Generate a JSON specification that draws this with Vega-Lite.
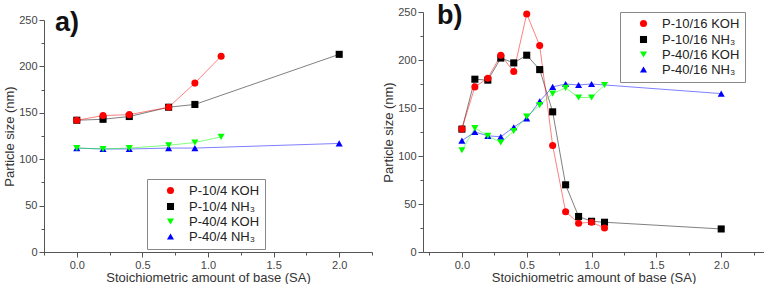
{
  "$schema": "https://vega.github.io/schema/vega-lite/v6.json",
  "padding": {"left": 3, "top": 2, "right": 0, "bottom": 0},
  "background": "white",
  "spacing": 9,
  "config": {
    "font": "Liberation Sans",
    "view": {"stroke": null},
    "axis": {"domainColor": "#555", "tickColor": "#555", "labelColor": "#444", "titleColor": "#333", "labelFont": "Liberation Sans", "titleFont": "Liberation Sans", "labelFontSize": 11, "titleFontSize": 13, "titleFontWeight": "normal", "grid": false, "labelOverlap": false, "labelFlush": false, "labelPadding": 2},
    "title": {"font": "Liberation Sans", "fontSize": 27, "fontWeight": "bold", "color": "#111", "anchor": "start", "frame": "group"}
  },
  "datasets": {
    "a": [
      {"series": "P-10/4 NH₃", "x": 0.0, "y": 142},
      {"series": "P-10/4 NH₃", "x": 0.2, "y": 143},
      {"series": "P-10/4 NH₃", "x": 0.4, "y": 146},
      {"series": "P-10/4 NH₃", "x": 0.7, "y": 156},
      {"series": "P-10/4 NH₃", "x": 0.9, "y": 159},
      {"series": "P-10/4 NH₃", "x": 2.0, "y": 213},
      {"series": "P-10/4 KOH", "x": 0.0, "y": 142},
      {"series": "P-10/4 KOH", "x": 0.2, "y": 147},
      {"series": "P-10/4 KOH", "x": 0.4, "y": 148},
      {"series": "P-10/4 KOH", "x": 0.7, "y": 156},
      {"series": "P-10/4 KOH", "x": 0.9, "y": 182},
      {"series": "P-10/4 KOH", "x": 1.1, "y": 211},
      {"series": "P-40/4 NH₃", "x": 0.0, "y": 112},
      {"series": "P-40/4 NH₃", "x": 0.2, "y": 111},
      {"series": "P-40/4 NH₃", "x": 0.4, "y": 111},
      {"series": "P-40/4 NH₃", "x": 0.7, "y": 112},
      {"series": "P-40/4 NH₃", "x": 0.9, "y": 112},
      {"series": "P-40/4 NH₃", "x": 2.0, "y": 117},
      {"series": "P-40/4 KOH", "x": 0.0, "y": 112},
      {"series": "P-40/4 KOH", "x": 0.2, "y": 111},
      {"series": "P-40/4 KOH", "x": 0.4, "y": 112},
      {"series": "P-40/4 KOH", "x": 0.7, "y": 115},
      {"series": "P-40/4 KOH", "x": 0.9, "y": 118},
      {"series": "P-40/4 KOH", "x": 1.1, "y": 124}
    ],
    "b": [
      {"series": "P-10/16 NH₃", "x": 0.0, "y": 128},
      {"series": "P-10/16 NH₃", "x": 0.1, "y": 180},
      {"series": "P-10/16 NH₃", "x": 0.2, "y": 179},
      {"series": "P-10/16 NH₃", "x": 0.3, "y": 202},
      {"series": "P-10/16 NH₃", "x": 0.4, "y": 197},
      {"series": "P-10/16 NH₃", "x": 0.5, "y": 205},
      {"series": "P-10/16 NH₃", "x": 0.6, "y": 190},
      {"series": "P-10/16 NH₃", "x": 0.7, "y": 146},
      {"series": "P-10/16 NH₃", "x": 0.8, "y": 70},
      {"series": "P-10/16 NH₃", "x": 0.9, "y": 37},
      {"series": "P-10/16 NH₃", "x": 1.0, "y": 32},
      {"series": "P-10/16 NH₃", "x": 1.1, "y": 31},
      {"series": "P-10/16 NH₃", "x": 2.0, "y": 24},
      {"series": "P-10/16 KOH", "x": 0.0, "y": 128},
      {"series": "P-10/16 KOH", "x": 0.1, "y": 172},
      {"series": "P-10/16 KOH", "x": 0.2, "y": 181},
      {"series": "P-10/16 KOH", "x": 0.3, "y": 205},
      {"series": "P-10/16 KOH", "x": 0.4, "y": 188},
      {"series": "P-10/16 KOH", "x": 0.5, "y": 248},
      {"series": "P-10/16 KOH", "x": 0.6, "y": 215},
      {"series": "P-10/16 KOH", "x": 0.7, "y": 111},
      {"series": "P-10/16 KOH", "x": 0.8, "y": 42},
      {"series": "P-10/16 KOH", "x": 0.9, "y": 30},
      {"series": "P-10/16 KOH", "x": 1.0, "y": 31},
      {"series": "P-10/16 KOH", "x": 1.1, "y": 25},
      {"series": "P-40/16 NH₃", "x": 0.0, "y": 116},
      {"series": "P-40/16 NH₃", "x": 0.1, "y": 125},
      {"series": "P-40/16 NH₃", "x": 0.2, "y": 121},
      {"series": "P-40/16 NH₃", "x": 0.3, "y": 120},
      {"series": "P-40/16 NH₃", "x": 0.4, "y": 130},
      {"series": "P-40/16 NH₃", "x": 0.5, "y": 139},
      {"series": "P-40/16 NH₃", "x": 0.6, "y": 157},
      {"series": "P-40/16 NH₃", "x": 0.7, "y": 172},
      {"series": "P-40/16 NH₃", "x": 0.8, "y": 175},
      {"series": "P-40/16 NH₃", "x": 0.9, "y": 174},
      {"series": "P-40/16 NH₃", "x": 1.0, "y": 175},
      {"series": "P-40/16 NH₃", "x": 2.0, "y": 165},
      {"series": "P-40/16 KOH", "x": 0.0, "y": 106},
      {"series": "P-40/16 KOH", "x": 0.1, "y": 129},
      {"series": "P-40/16 KOH", "x": 0.2, "y": 121},
      {"series": "P-40/16 KOH", "x": 0.3, "y": 114},
      {"series": "P-40/16 KOH", "x": 0.4, "y": 126},
      {"series": "P-40/16 KOH", "x": 0.5, "y": 141},
      {"series": "P-40/16 KOH", "x": 0.6, "y": 153},
      {"series": "P-40/16 KOH", "x": 0.7, "y": 165},
      {"series": "P-40/16 KOH", "x": 0.8, "y": 171},
      {"series": "P-40/16 KOH", "x": 0.9, "y": 161},
      {"series": "P-40/16 KOH", "x": 1.0, "y": 161},
      {"series": "P-40/16 KOH", "x": 1.1, "y": 174}
    ]
  },
  "resolve": {"scale": {"x": "independent", "y": "independent", "color": "independent", "stroke": "independent", "shape": "independent"}, "legend": {"color": "independent", "shape": "independent"}},
  "hconcat": [
    {
      "width": 328,
      "height": 240,
      "data": {"name": "a"},
      "title": {"text": "a)", "offset": -25, "dx": 11},
      "encoding": {
        "x": {"field": "x", "type": "quantitative", "title": "Stoichiometric amount of base (SA)",
          "scale": {"domain": [-0.25, 2.25], "nice": false, "zero": false},
          "axis": {"values": [-0.25, 0, 0.25, 0.5, 0.75, 1, 1.25, 1.5, 1.75, 2, 2.25], "labelExpr": "datum.value % 0.5 === 0 ? format(datum.value, '.1f') : ''", "tickSize": {"condition": {"test": "datum.value % 0.5 === 0", "value": 5}, "value": 3}, "titlePadding": 1}},
        "y": {"field": "y", "type": "quantitative", "title": "Particle size (nm)",
          "scale": {"domain": [0, 250], "range": [240, 8], "nice": false},
          "axis": {"values": [0, 25, 50, 75, 100, 125, 150, 175, 200, 225, 250], "labelExpr": "datum.value % 50 === 0 ? format(datum.value, 'd') : ''", "tickSize": {"condition": {"test": "datum.value % 50 === 0", "value": 5}, "value": 3}, "titlePadding": 2}}
      },
      "layer": [
        {
          "mark": {"type": "line", "strokeWidth": 1, "strokeOpacity": 0.5},
          "encoding": {"stroke": {"field": "series", "type": "nominal", "legend": null,
            "scale": {"range": ["#ff0000", "#000000", "#00ff00", "#0000ff"]}}}
        },
        {
          "mark": {"type": "point", "filled": true, "size": 50, "opacity": 1},
          "encoding": {
            "color": {"field": "series", "type": "nominal", "title": null,
              "scale": {"range": ["#ff0000", "#000000", "#00ff00", "#0000ff"]},
              "legend": {"orient": "none", "legendX": 103, "legendY": 167, "title": null, "labelFontSize": 13, "labelColor": "#222", "strokeColor": "#888", "fillColor": "white", "padding": 5, "symbolSize": 50, "symbolOpacity": 1, "rowPadding": 1, "symbolOffset": 12, "labelOffset": 12}},
            "shape": {"field": "series", "type": "nominal", "title": null,
              "scale": {"range": ["circle", "square", "triangle-down", "triangle-up"]}}
          }
        }
      ]
    },
    {
      "width": 341,
      "height": 240,
      "data": {"name": "b"},
      "title": {"text": "b)", "offset": -24, "dx": 14},
      "encoding": {
        "x": {"field": "x", "type": "quantitative", "title": "Stoichiometric amount of base (SA)",
          "scale": {"domain": [-0.3, 2.33], "nice": false, "zero": false},
          "axis": {"values": [-0.25, 0, 0.25, 0.5, 0.75, 1, 1.25, 1.5, 1.75, 2, 2.25], "labelExpr": "datum.value % 0.5 === 0 ? format(datum.value, '.1f') : ''", "tickSize": {"condition": {"test": "datum.value % 0.5 === 0", "value": 5}, "value": 3}, "titlePadding": 1}},
        "y": {"field": "y", "type": "quantitative", "title": "Particle size (nm)",
          "scale": {"domain": [0, 250], "nice": false},
          "axis": {"values": [0, 25, 50, 75, 100, 125, 150, 175, 200, 225, 250], "labelExpr": "datum.value % 50 === 0 ? format(datum.value, 'd') : ''", "tickSize": {"condition": {"test": "datum.value % 50 === 0", "value": 5}, "value": 3}, "titlePadding": 2}}
      },
      "layer": [
        {
          "mark": {"type": "line", "strokeWidth": 1, "strokeOpacity": 0.5},
          "encoding": {"stroke": {"field": "series", "type": "nominal", "legend": null,
            "scale": {"range": ["#ff0000", "#000000", "#00ff00", "#0000ff"]}}}
        },
        {
          "mark": {"type": "point", "filled": true, "size": 50, "opacity": 1},
          "encoding": {
            "color": {"field": "series", "type": "nominal", "title": null,
              "scale": {"range": ["#ff0000", "#000000", "#00ff00", "#0000ff"]},
              "legend": {"orient": "none", "legendX": 197, "legendY": 0, "title": null, "labelFontSize": 13, "labelColor": "#222", "strokeColor": "#888", "fillColor": "white", "padding": 5, "symbolSize": 50, "symbolOpacity": 1, "rowPadding": 1, "symbolOffset": 12, "labelOffset": 12}},
            "shape": {"field": "series", "type": "nominal", "title": null,
              "scale": {"range": ["circle", "square", "triangle-down", "triangle-up"]}}
          }
        }
      ]
    }
  ]
}
